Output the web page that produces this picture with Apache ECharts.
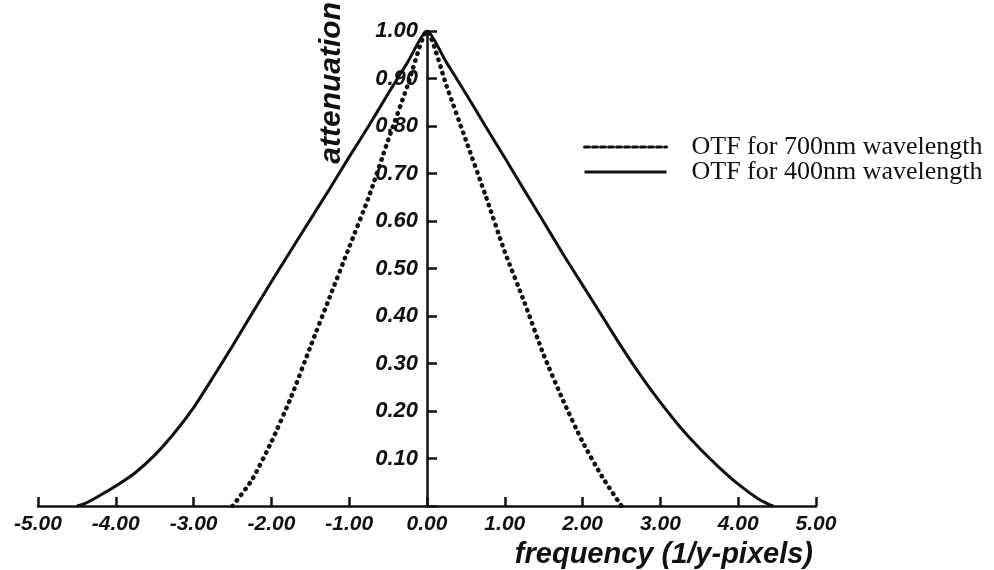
<!DOCTYPE html>
<html>
<head>
<meta charset="utf-8">
<script src="https://cdn.jsdelivr.net/npm/echarts@6/dist/echarts.min.js"></script>
<style>
html,body{margin:0;padding:0;background:#fff;}
#chart{width:994px;height:570px;}
</style>
</head>
<body>
<div id="chart"></div>
<script>
// Frequency (1/y-pixels) and attenuation
var freq400 = [-4.5,-4.4,-4.25,-4.0,-3.75,-3.5,-3.25,-3.0,-2.75,-2.5,-2.25,-2.0,-1.75,-1.5,-1.25,-1.0,-0.75,-0.5,-0.25,0,
               0.25,0.5,0.75,1.0,1.25,1.5,1.75,2.0,2.25,2.5,2.75,3.0,3.25,3.5,3.75,4.0,4.25,4.4,4.45];
var otf400  = [0,0.005,0.018,0.042,0.070,0.107,0.153,0.207,0.271,0.337,0.405,0.472,0.538,0.603,0.668,0.735,0.80,0.868,0.934,1.0,
               0.934,0.868,0.80,0.733,0.665,0.598,0.53,0.465,0.40,0.335,0.274,0.218,0.167,0.122,0.082,0.046,0.016,0.003,0];
var freq700 = [-2.5,-2.25,-2.0,-1.75,-1.5,-1.25,-1.0,-0.75,-0.5,-0.25,0,0.25,0.5,0.75,1.0,1.25,1.5,1.75,2.0,2.25,2.5];
var otf700  = [0,0.055,0.135,0.228,0.335,0.44,0.545,0.65,0.77,0.885,1.0,0.885,0.77,0.655,0.535,0.43,0.318,0.222,0.135,0.062,0];
var seriesNames = ['OTF for 700nm wavelength','OTF for 400nm wavelength'];
var xTitle = 'frequency (1/y-pixels)';
var yTitle = 'attenuation';
var xMin = -5, xMax = 5, xStep = 1;
var yMin = 0, yMax = 1, yStep = 0.1;

function pairs(xs, ys){ return xs.map(function(x,i){ return [x, ys[i]]; }); }

var ink = '#111';
var gridLeft = 38, gridRight = 178, chartW = 994;
// shift the y axis (line, ticks, labels) to x = 0 of the frequency axis
var yAxisShift = -(chartW - gridLeft - gridRight) * (0 - xMin) / (xMax - xMin);
function tickFont(size){ return {fontFamily:'Liberation Sans', fontStyle:'italic', fontWeight:'bold', fontSize:size, color:ink}; }

var chart = echarts.init(document.getElementById('chart'));
chart.setOption({
  animation:false,
  backgroundColor:'#fff',
  grid:{left:gridLeft, right:gridRight, top:31, bottom:64, containLabel:false, outerBoundsMode:'none'},
  legend:[{
    show:true, type:'plain', orient:'vertical', left:583, top:134, right:'auto', bottom:'auto',
    itemWidth:82, itemHeight:14, itemGap:-1, padding:0,
    itemStyle:{opacity:0},
    lineStyle:{width:3, color:ink},
    textStyle:{fontFamily:'Liberation Serif', fontSize:26, color:ink, padding:[0,0,0,20]},
    data:[
      {name:seriesNames[0], itemStyle:{opacity:0}, lineStyle:{type:[5,3], width:3, color:ink}},
      {name:seriesNames[1], itemStyle:{opacity:0}, lineStyle:{type:'solid', width:3, color:ink}}
    ]
  }],
  xAxis:{
    type:'value', min:xMin, max:xMax, interval:xStep,
    name:xTitle, nameLocation:'end', nameGap:0,
    nameTextStyle:Object.assign(tickFont(29), {align:'right', verticalAlign:'top', padding:[34,3,0,0]}),
    axisLine:{lineStyle:{color:ink, width:2.5}},
    axisTick:{inside:true, length:9, lineStyle:{color:ink, width:2.5}},
    axisLabel:Object.assign({margin:8, formatter:function(v){return v.toFixed(2);}}, tickFont(21)),
    splitLine:{show:false}
  },
  yAxis:{
    type:'value', min:yMin, max:yMax, interval:yStep, position:'left', offset:yAxisShift,
    name:yTitle, nameLocation:'end', nameGap:29, nameRotate:90,
    nameTextStyle:Object.assign(tickFont(30), {align:'right', verticalAlign:'bottom', padding:[0,0,80,0]}),
    axisLine:{onZero:false, lineStyle:{color:ink, width:2.5}},
    axisTick:{inside:true, length:10, lineStyle:{color:ink, width:2.5}},
    axisLabel:Object.assign({margin:9, formatter:function(v){return v===0?'':v.toFixed(2);}}, tickFont(22)),
    splitLine:{show:false}
  },
  series:[
    {name:seriesNames[0], type:'line', data:pairs(freq700, otf700), symbol:'none', showSymbol:false, smooth:0.2,
     lineStyle:{color:ink, width:4.5, type:[0.5,6.5], cap:'round'}, itemStyle:{color:ink}, z:3},
    {name:seriesNames[1], type:'line', data:pairs(freq400, otf400), symbol:'none', showSymbol:false, smooth:0.2,
     lineStyle:{color:ink, width:3, type:'solid'}, itemStyle:{color:ink}, z:3}
  ]
});
</script>
</body>
</html>
